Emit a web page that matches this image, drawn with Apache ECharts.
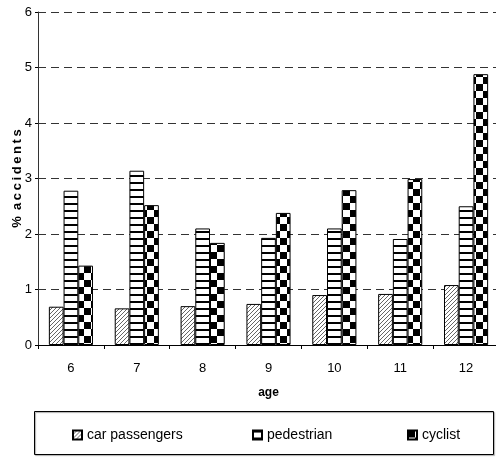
<!DOCTYPE html>
<html>
<head>
<meta charset="utf-8">
<script src="https://cdn.jsdelivr.net/npm/echarts@6/dist/echarts.min.js"></script>
<style>html,body{margin:0;padding:0;background:#fff}#c{width:496px;height:458px}</style>
</head>
<body>
<div id="c"></div>
<script>
var categories = ['6', '7', '8', '9', '10', '11', '12'];
var carPassengers = [0.69, 0.66, 0.70, 0.74, 0.90, 0.92, 1.08];
var pedestrian = [2.78, 3.14, 2.10, 1.93, 2.10, 1.91, 2.50];
var cyclist = [1.43, 2.52, 1.84, 2.38, 2.79, 2.99, 4.88];
var yTicks = [0, 1, 2, 3, 4, 5, 6];
var seriesNames = ['car passengers', 'pedestrian', 'cyclist'];

var FONT = "'Liberation Sans', Arial, sans-serif";

function makeCanvas(w, h, draw) {
  var c = document.createElement('canvas');
  c.width = w; c.height = h;
  var ctx = c.getContext('2d');
  ctx.fillStyle = '#fff';
  ctx.fillRect(0, 0, w, h);
  draw(ctx);
  return c;
}
var hatch = makeCanvas(4, 4, function (ctx) {
  ctx.strokeStyle = '#666';
  ctx.lineWidth = 1;
  ctx.beginPath();
  ctx.moveTo(0, 4); ctx.lineTo(4, 0);
  ctx.moveTo(-1, 1); ctx.lineTo(1, -1);
  ctx.moveTo(3, 5); ctx.lineTo(5, 3);
  ctx.stroke();
});
var hstripe = makeCanvas(7, 7, function (ctx) {
  ctx.fillStyle = '#000';
  ctx.fillRect(0, 0, 7, 2);
});
var checker = makeCanvas(14, 14, function (ctx) {
  ctx.fillStyle = '#000';
  ctx.fillRect(0, 0, 7, 7);
  ctx.fillRect(7, 7, 7, 7);
});

var patterns = [
  { image: hatch, repeat: 'repeat' },
  { image: hstripe, repeat: 'repeat' },
  { image: checker, repeat: 'repeat' }
];
var dataSets = [carPassengers, pedestrian, cyclist];

var chart = echarts.init(document.getElementById('c'), null, { renderer: 'canvas' });

var legendLefts = [72, 252, 407];
var legends = seriesNames.map(function (n, i) {
  return {
    data: [n],
    left: legendLefts[i],
    top: 428,
    itemWidth: 9,
    itemHeight: 9,
    itemGap: 0,
    icon: 'rect',
    padding: 0,
    selectedMode: false,
    textStyle: { fontFamily: FONT, fontSize: 14, color: '#000' }
  };
});

chart.setOption({
  animation: false,
  backgroundColor: '#fff',
  textStyle: { fontFamily: FONT },
  grid: { left: 38, top: 12, right: -3, bottom: 113, containLabel: false, outerBoundsMode: 'none' },
  legend: legends,
  graphic: [{
    type: 'rect',
    shape: { x: 34.5, y: 411.5, width: 459, height: 43 },
    style: { fill: 'none', stroke: '#000', lineWidth: 1, shadowColor: 'rgba(0,0,0,0.35)', shadowOffsetX: 1, shadowOffsetY: 1, shadowBlur: 1 },
    z: -1
  }],
  xAxis: {
    type: 'category',
    data: categories,
    name: 'age',
    nameLocation: 'middle',
    nameGap: 42,
    nameTextStyle: { fontFamily: FONT, fontWeight: 'bold', fontSize: 12, color: '#000' },
    axisLine: { lineStyle: { color: '#000', width: 1 } },
    axisTick: { show: true, length: 4, lineStyle: { color: '#000' } },
    axisLabel: { fontFamily: FONT, fontSize: 13, color: '#000', margin: 17 }
  },
  yAxis: {
    type: 'value',
    min: yTicks[0],
    max: yTicks[yTicks.length - 1],
    interval: 1,
    name: '%\u2009 a\u2009c\u2009c\u2009i\u2009d\u2009e\u2009n\u2009t\u2009s',
    nameLocation: 'middle',
    nameGap: 14,
    nameMoveOverlap: false,
    nameRotate: 90,
    nameTextStyle: { fontFamily: FONT, fontWeight: 'bold', fontSize: 13, color: '#000' },
    axisLine: { show: true, lineStyle: { color: '#333', width: 1 } },
    axisTick: { show: true, length: 3, lineStyle: { color: '#000' } },
    axisLabel: { fontFamily: FONT, fontSize: 13, color: '#000', margin: 6 },
    splitLine: { show: true, lineStyle: { color: '#333', width: 1, type: [8, 5] } }
  },
  series: seriesNames.map(function (n, i) {
    return {
      name: n,
      type: 'bar',
      data: dataSets[i],
      barGap: '0%',
      barCategoryGap: '33%',
      itemStyle: { color: patterns[i], borderColor: '#000', borderWidth: 1 }
    };
  })
});
</script>
</body>
</html>
